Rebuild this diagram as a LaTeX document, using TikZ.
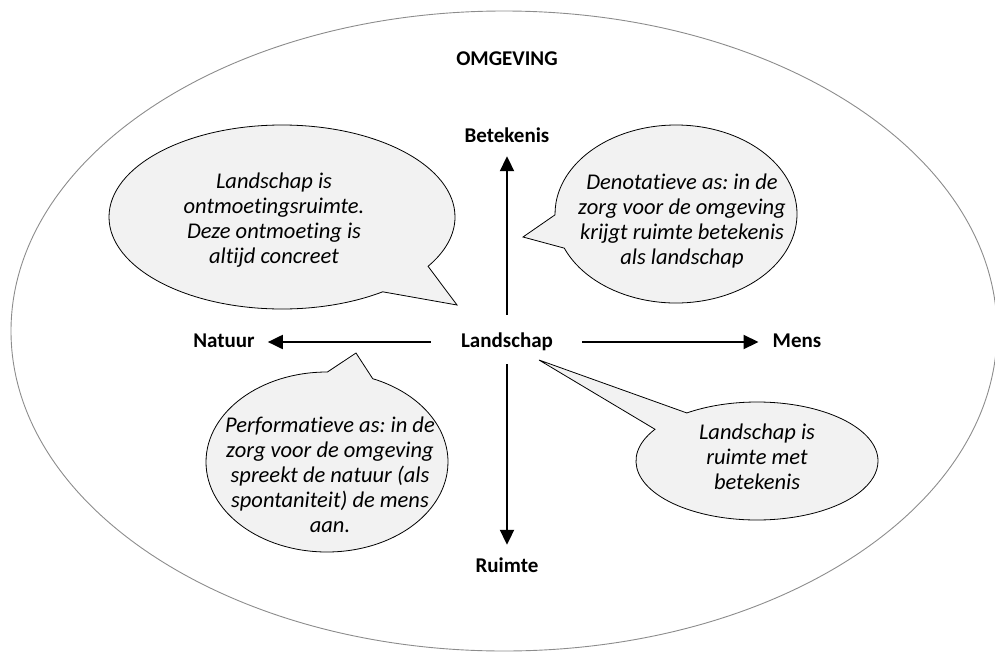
\documentclass[tikz,border=0pt]{standalone}
\usepackage{fontspec}
\setmainfont{Carlito}[Ligatures=NoCommon]
\usepackage{tikz}
\usetikzlibrary{arrows.meta,shapes.callouts,positioning}
\definecolor{bubblefill}{HTML}{F2F2F2}
\definecolor{rimgray}{HTML}{8C8C8C}
\frenchspacing

\begin{document}
\begin{tikzpicture}[x=1pt,y=-1pt,>={Triangle[length=15pt,width=14pt]},
  axislabel/.style={font=\fontsize{21}{24}\selectfont\bfseries,inner sep=0pt,anchor=base,text height=14pt,text depth=4pt},
  axis/.style={->,line width=2pt},
  bubble/.style={ellipse callout,draw=black,fill=bubblefill,line width=.8pt,callout pointer arc=22,inner sep=0pt},
  bubbletext/.style={font=\fontsize{22.5}{25}\selectfont\itshape,align=center,inner sep=0pt}]
\useasboundingbox (0,0) rectangle (995,653);

% omgeving
\draw [rimgray,line width=.9pt] (504,331) ellipse [x radius=493,y radius=320];
\node [axislabel] at (507,65) (omg) {OMGEVING};

% tail tips
\coordinate (p1) at (457,305);
\coordinate (p2) at (523,237);
\coordinate (p3) at (356,353);
\coordinate (p4) at (539,360);

% bubbles
\node [bubble,minimum width=346pt,minimum height=184pt,callout absolute pointer={(p1)}] at (282,217) (b1) {};
\node [bubble,minimum width=242pt,minimum height=178pt,callout absolute pointer={(p2)}] at (676,214) (b2) {};
\node [bubble,minimum width=242pt,minimum height=180pt,callout absolute pointer={(p3)}] at (327,462) (b3) {};
\node [bubble,minimum width=242pt,minimum height=118pt,callout absolute pointer={(p4)}] at (757,461) (b4) {};

\node [bubbletext] at (274,220) (t1) {Landschap is\\ontmoetingsruimte.\\Deze ontmoeting is\\altijd concreet};
\node [bubbletext] at (682,221) (t2) {Denotatieve as: in de\\zorg voor de omgeving\\krijgt ruimte betekenis\\als landschap};
\node [bubbletext] at (330,475) (t3) {Performatieve as: in de\\zorg voor de omgeving\\spreekt de natuur (als\\spontaniteit) de mens\\aan.};
\node [bubbletext] at (757,457) (t4) {Landschap is\\ruimte met\\betekenis};

% assen
\node [axislabel] at (507,347) (land) {Landschap};
\node [axislabel] at (507,142) (bet) {Betekenis};
\node [axislabel] at (507,572) (ruim) {Ruimte};
\node [axislabel] at (224,347) (nat) {Natuur};
\node [axislabel] at (797,347) (mens) {Mens};

\draw [axis,shorten <=18pt,shorten >=10pt] (land.north) -- (bet.south);
\draw [axis,shorten <=13pt,shorten >=13pt] (land.south) -- (ruim.north);
\draw [axis,shorten <=30pt,shorten >=13pt] (land.west) -- (nat.east);
\draw [axis,shorten <=29pt,shorten >=14pt] (land.east) -- (mens.west);
\end{tikzpicture}
\end{document}
